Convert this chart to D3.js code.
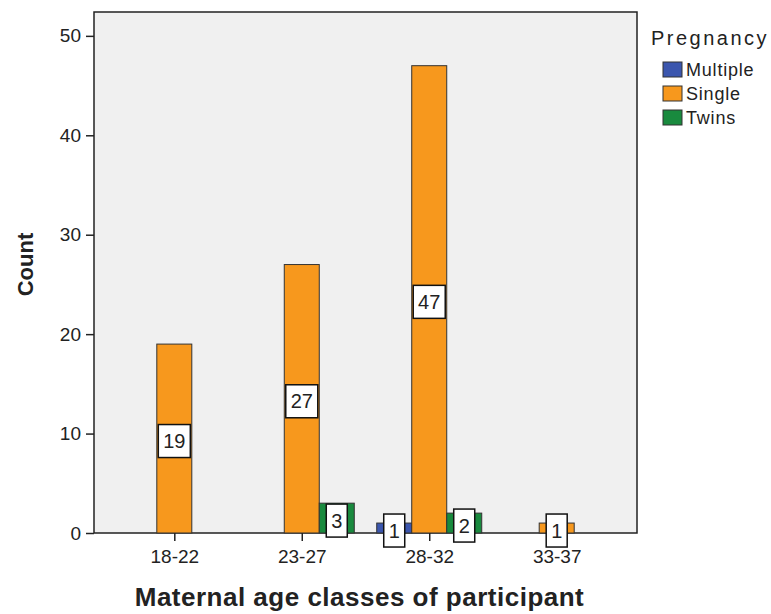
<!DOCTYPE html>
<html lang="en">
<head>
<meta charset="UTF-8">
<title>Maternal age classes</title>
<script src="https://d3js.org/d3.v7.min.js"></script>
<style>
  body { margin: 0; background: #fff; }
  text { font-family: "Liberation Sans", Arial, sans-serif; fill: #222; }
  .tick text { font-size: 19px; }
  .bar { stroke: #333; stroke-width: 1; }
  .lbl-box { fill: #fff; stroke: #111; stroke-width: 1.5; }
  .lbl { font-size: 20px; text-anchor: middle; }
</style>
</head>
<body>
<div id="chart"></div>
<script>
// data
const ageClasses = ["18-22", "23-27", "28-32", "33-37"];
const pregnancy = ["Multiple", "Single", "Twins"];
const multiple = [0, 0, 1, 0];
const single = [19, 27, 47, 1];
const twins = [0, 3, 2, 0];
const yTicks = [0, 10, 20, 30, 40, 50];
const colors = ["#3b56ae", "#f7981d", "#198a3e"];

const width = 771, height = 614;
const plot = { left: 94, right: 637, top: 12, bottom: 533 };

const svg = d3.select("#chart").append("svg")
  .attr("width", width).attr("height", height);

// plot background
svg.append("rect")
  .attr("x", plot.left).attr("y", plot.top)
  .attr("width", plot.right - plot.left).attr("height", plot.bottom - plot.top)
  .attr("fill", "#f0f0f0").attr("stroke", "#222").attr("stroke-width", 1.5);

const x = d3.scalePoint().domain(ageClasses)
  .range([plot.left, plot.right]).padding(0.63);
const y = d3.scaleLinear().domain([0, 52.4]).range([plot.bottom, plot.top]);
const barW = 35;

const rows = [];
pregnancy.forEach((p, i) => {
  const vals = [multiple, single, twins][i];
  vals.forEach((v, j) => {
    if (v > 0) rows.push({ cat: ageClasses[j], group: i, value: v });
  });
});

// bars
svg.append("g").selectAll("rect").data(rows).join("rect")
  .attr("class", "bar")
  .attr("x", d => x(d.cat) + (d.group - 1) * barW - barW / 2)
  .attr("y", d => y(d.value))
  .attr("width", barW)
  .attr("height", d => y(0) - y(d.value))
  .attr("fill", d => colors[d.group]);

// axes
const yAxis = svg.append("g")
  .attr("transform", `translate(${plot.left},0)`)
  .call(d3.axisLeft(y).tickValues(yTicks).tickSize(8).tickPadding(5));
yAxis.select(".domain").remove();
yAxis.selectAll(".tick line").attr("stroke", "#222").attr("stroke-width", 1.5);
yAxis.selectAll(".tick text").attr("fill", "#222");

const xAxis = svg.append("g")
  .attr("transform", `translate(0,${plot.bottom})`)
  .call(d3.axisBottom(x).tickSize(8).tickPadding(9));
xAxis.select(".domain").remove();
xAxis.selectAll(".tick line").attr("stroke", "#222").attr("stroke-width", 1.5);
xAxis.selectAll(".tick text").attr("fill", "#222");

// value labels
const lbl = svg.append("g").selectAll("g").data(rows).join("g")
  .attr("transform", d => `translate(${x(d.cat) + (d.group - 1) * barW},${(y(d.value) + y(0)) / 2 + 2})`);
lbl.append("rect").attr("class", "lbl-box")
  .attr("x", d => -(String(d.value).length * 11 + 10) / 2)
  .attr("width", d => String(d.value).length * 11 + 10)
  .attr("y", -16).attr("height", 33);
lbl.append("text").attr("class", "lbl")
  .attr("dy", "0.38em")
  .text(d => d.value);

// axis titles
svg.append("text")
  .attr("transform", `translate(33,${(plot.top + plot.bottom) / 2 - 8}) rotate(-90)`)
  .attr("text-anchor", "middle")
  .style("font-size", "22px").style("font-weight", "bold")
  .text("Count");
svg.append("text")
  .attr("x", (plot.left + plot.right) / 2 - 6).attr("y", 606)
  .attr("text-anchor", "middle")
  .style("font-size", "26px").style("font-weight", "bold")
  .style("letter-spacing", "0.5px")
  .text("Maternal age classes of participant");

// legend
svg.append("text")
  .attr("x", 651).attr("y", 45)
  .style("font-size", "20px").style("letter-spacing", "2.5px")
  .text("Pregnancy");
const leg = svg.append("g").selectAll("g").data(pregnancy).join("g")
  .attr("transform", (d, i) => `translate(663,${62 + i * 24})`);
leg.append("rect")
  .attr("width", 19).attr("height", 15)
  .attr("fill", (d, i) => colors[i]).attr("stroke", "#333");
leg.append("text")
  .attr("x", 23).attr("y", 14)
  .style("font-size", "18px").style("letter-spacing", "0.8px")
  .text(d => d);
</script>
</body>
</html>
